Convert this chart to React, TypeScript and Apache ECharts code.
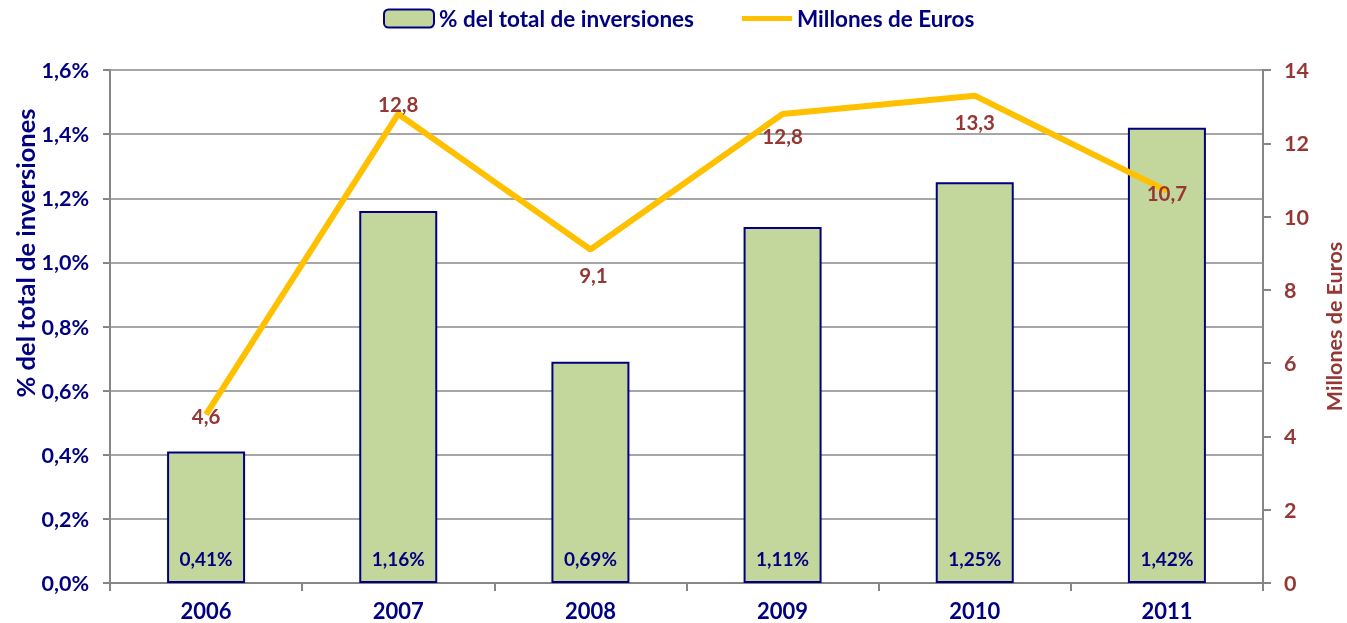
import React, { useEffect, useRef } from "react";
import * as echarts from "echarts";

const years = ["2006", "2007", "2008", "2009", "2010", "2011"];
const pctValues = [0.41, 1.16, 0.69, 1.11, 1.25, 1.42];
const euroValues = [4.6, 12.8, 9.1, 12.8, 13.3, 10.7];
const euroLabelOffsets: [number, number][] = [
  [0, 2],
  [0, -10],
  [3, 25],
  [0, 22],
  [0, 26],
  [0, 2],
];

const NAVY = "#000080";
const BROWN = "#953735";
const FONT = "Lato";

export default function App() {
  const ref = useRef<HTMLDivElement>(null);
  useEffect(() => {
    if (!ref.current) return;
    const chart = echarts.init(ref.current, undefined, { renderer: "svg" });
    chart.setOption({
      animation: false,
      textStyle: { fontFamily: FONT, fontWeight: "bold" },
      legend: {
        top: 2,
        left: 378,
        itemGap: 48,
        itemWidth: 50,
        itemHeight: 18,
        textStyle: { color: NAVY, fontSize: 22.5, fontWeight: "bold", fontFamily: FONT },
        data: [
          { name: "% del total de inversiones" },
          {
            name: "Millones de Euros",
            icon: "path://M0,0 L50,0 L50,5 L0,5 Z",
            itemStyle: { color: "#ffc000", borderWidth: 0 },
          },
        ],
      },
      grid: {
        left: 110,
        right: 84,
        top: 70,
        bottom: 40,
        containLabel: false,
        outerBoundsMode: "none",
      },
      xAxis: {
        type: "category",
        data: years,
        axisLine: { lineStyle: { color: "#868686", width: 2 } },
        axisTick: { show: true, length: 8, lineStyle: { color: "#868686", width: 2 } },
        axisLabel: { color: NAVY, fontSize: 22, fontWeight: "bold", margin: 16, fontFamily: FONT },
      },
      yAxis: [
        {
          type: "value",
          min: 0,
          max: 1.6,
          interval: 0.2,
          axisLine: { show: true, lineStyle: { color: "#868686", width: 2 } },
          axisTick: { show: true, length: 7, lineStyle: { color: "#868686", width: 2 } },
          splitLine: { lineStyle: { color: "#a6a6a6", width: 2 } },
          axisLabel: {
            color: NAVY,
            fontSize: 21.5,
            fontWeight: "bold",
            margin: 21,
            fontFamily: FONT,
            formatter: (v: number) => v.toFixed(1).replace(".", ",") + "%",
          },
        },
        {
          type: "value",
          min: 0,
          max: 14,
          interval: 2,
          position: "right",
          name: "Millones de Euros",
          nameLocation: "middle",
          nameRotate: 90,
          nameGap: 60,
          nameTextStyle: { color: BROWN, fontSize: 21.5, fontWeight: "bold", fontFamily: FONT },
          axisLine: { show: true, lineStyle: { color: "#868686", width: 2 } },
          axisTick: { show: true, length: 8, lineStyle: { color: "#868686", width: 2 } },
          splitLine: { show: false },
          axisLabel: {
            color: BROWN,
            fontSize: 21.5,
            fontWeight: "bold",
            margin: 21,
            fontFamily: FONT,
          },
        },
      ],
      graphic: [
        {
          type: "text",
          x: 25,
          y: 253,
          rotation: Math.PI / 2,
          style: {
            text: "% del total de inversiones",
            fill: NAVY,
            font: `bold 25.5px ${FONT}`,
            align: "center",
            verticalAlign: "middle",
          },
        },
      ],
      series: [
        {
          name: "% del total de inversiones",
          type: "bar",
          yAxisIndex: 0,
          data: pctValues,
          barWidth: 78,
          itemStyle: { color: "#c3d69b", borderColor: NAVY, borderWidth: 2 },
          label: {
            show: true,
            position: "insideBottom",
            distance: 15,
            color: NAVY,
            fontSize: 19,
            fontWeight: "bold",
            fontFamily: FONT,
            formatter: (p: any) => p.value.toFixed(2).replace(".", ",") + "%",
          },
        },
        {
          name: "Millones de Euros",
          type: "line",
          yAxisIndex: 1,
          symbol: "circle",
          symbolSize: 1,
          showSymbol: true,
          lineStyle: { color: "#ffc000", width: 6 },
          itemStyle: { color: "#ffc000" },
          data: euroValues.map((v, i) => ({
            value: v,
            label: { offset: euroLabelOffsets[i] },
          })),
          label: {
            show: true,
            position: "inside",
            color: BROWN,
            fontSize: 20.5,
            fontWeight: "bold",
            fontFamily: FONT,
            formatter: (p: any) => p.value.toFixed(1).replace(".", ","),
          },
          z: 5,
        },
      ],
    });
    return () => chart.dispose();
  }, []);
  return (
    <div
      ref={ref}
      style={{ position: "fixed", left: 0, top: 0, width: 1347, height: 623 }}
    />
  );
}
